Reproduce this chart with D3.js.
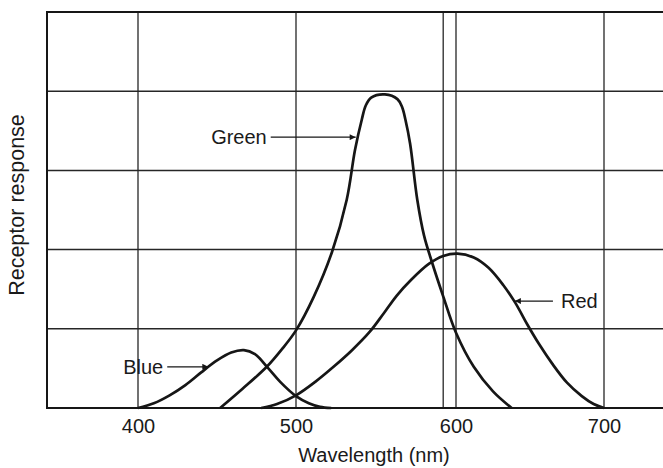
<!DOCTYPE html>
<html>
<head>
<meta charset="utf-8">
<script src="https://cdn.jsdelivr.net/npm/d3@7"></script>
<style>
  html, body { margin: 0; padding: 0; background: #ffffff; }
  svg { display: block; }
  text { font-family: "Liberation Sans", Arial, Helvetica, sans-serif; fill: #1a1a1a; }
</style>
</head>
<body>
<svg id="chart" width="663" height="468"></svg>
<script>
// ---- data (wavelength nm, relative receptor response) ----
const blueCurve = [
  [400, 0], [410, 0.06], [420, 0.16], [430, 0.29], [440, 0.45], [450, 0.60],
  [459, 0.70], [467, 0.73], [474, 0.68], [482.5, 0.50], [490, 0.33],
  [500, 0.15], [508, 0.06], [515, 0.015], [522, 0]
];
const greenCurve = [
  [452, 0], [466, 0.24], [481.5, 0.52], [491, 0.74], [500, 0.98],
  [511, 1.40], [522.5, 1.97], [531.7, 2.63], [536.9, 3.26], [541.1, 3.64],
  [543.6, 3.82], [547, 3.92], [555.6, 3.96], [563.4, 3.90], [566.3, 3.80],
  [568.4, 3.64], [571.3, 3.34], [575.8, 2.63], [580, 2.18], [585, 1.84],
  [592, 1.41], [600, 0.95], [612, 0.52], [625, 0.21], [637.6, 0]
];
const redCurve = [
  [478, 0], [488, 0.05], [500, 0.16], [512, 0.33], [524, 0.53], [535, 0.73],
  [546, 0.96], [555, 1.20], [563, 1.42], [572, 1.62], [583, 1.82], [592, 1.92],
  [601, 1.95], [612, 1.90], [622, 1.77], [632, 1.55], [640, 1.33], [648, 1.06],
  [656, 0.81], [665, 0.56], [675, 0.32], [685, 0.15], [693, 0.05], [700, 0]
];
const xTicks = [400, 500, 600, 700];
const xGrid = [400, 500, 592, 600, 700];
const yGrid = [1, 2, 3, 4];
// annotation: label, arrow tail (nm), arrow tip (nm, value)
const labels = ["Green", "Blue", "Red"];
const labelTail = [484, 418.5, 665.5];
const labelTip = [[537.3, 3.42], [444.5, 0.52], [639.8, 1.35]];
const labelSide = ["left", "left", "right"];

// ---- layout ----
const svg = d3.select("#chart");
const plotLeft = 47, plotRight = 670, plotTop = 12, plotBottom = 408;

// scanned figure: slightly uneven spacing between decades
const x = d3.scaleLinear()
  .domain([400, 500, 600, 700])
  .range([138, 296, 456, 604]);
const y = d3.scaleLinear().domain([0, 5]).range([plotBottom, plotTop]);

const ink = "#161616";

// gridlines
svg.append("g").selectAll("line").data(yGrid).join("line")
  .attr("x1", plotLeft).attr("x2", plotRight)
  .attr("y1", d => y(d)).attr("y2", d => y(d))
  .attr("stroke", "#262626").attr("stroke-width", 1.5);
svg.append("g").selectAll("line").data(xGrid).join("line")
  .attr("x1", d => x(d)).attr("x2", d => x(d))
  .attr("y1", plotTop).attr("y2", plotBottom)
  .attr("stroke", "#262626").attr("stroke-width", 1.3);

// frame (top, left, bottom)
svg.append("path")
  .attr("d", `M${plotRight},${plotTop}H${plotLeft}V${plotBottom}H${plotRight}`)
  .attr("fill", "none").attr("stroke", ink).attr("stroke-width", 2);

// curves
const line = d3.line().x(d => x(d[0])).y(d => y(d[1])).curve(d3.curveCatmullRom.alpha(0.5));
svg.append("g").selectAll("path").data([blueCurve, greenCurve, redCurve]).join("path")
  .attr("d", line)
  .attr("fill", "none").attr("stroke", ink).attr("stroke-width", 2.7)
  .attr("stroke-linejoin", "round");

// x axis labels
const xAxis = d3.axisBottom(x).tickValues(xTicks).tickSize(0).tickPadding(11)
  .tickFormat(d3.format("d"));
const gx = svg.append("g").attr("transform", `translate(0,${plotBottom})`).call(xAxis);
gx.select(".domain").remove();
gx.selectAll("text").style("font-size", "20px")
  .style("font-family", '"Liberation Sans", Arial, sans-serif').attr("fill", "#1a1a1a");

svg.append("text").attr("x", 374).attr("y", 462).attr("text-anchor", "middle")
  .style("font-size", "20px").text("Wavelength (nm)");
svg.append("text").attr("transform", "translate(24,205) rotate(-90)")
  .attr("text-anchor", "middle").style("font-size", "21.5px").text("Receptor response");

// arrowhead marker
svg.append("defs").append("marker")
  .attr("id", "ah").attr("viewBox", "0 0 10 10").attr("refX", 10).attr("refY", 5)
  .attr("markerWidth", 9).attr("markerHeight", 6).attr("markerUnits", "userSpaceOnUse")
  .attr("orient", "auto")
  .append("path").attr("d", "M0,0L10,5L0,10Z").attr("fill", ink);

// annotations
labels.forEach((lab, i) => {
  const tip = labelTip[i];
  const ty = y(tip[1]);
  const tx0 = x(labelTail[i]);
  svg.append("line")
    .attr("x1", tx0).attr("y1", ty).attr("x2", x(tip[0])).attr("y2", ty)
    .attr("stroke", ink).attr("stroke-width", 1.2).attr("marker-end", "url(#ah)");
  const t = svg.append("text")
    .attr("y", ty).attr("dy", "0.35em").style("font-size", "20px").text(lab);
  if (labelSide[i] === "left") {
    t.attr("x", tx0 - 4).attr("text-anchor", "end");
  } else {
    t.attr("x", tx0 + 8).attr("text-anchor", "start");
  }
});
</script>
</body>
</html>
